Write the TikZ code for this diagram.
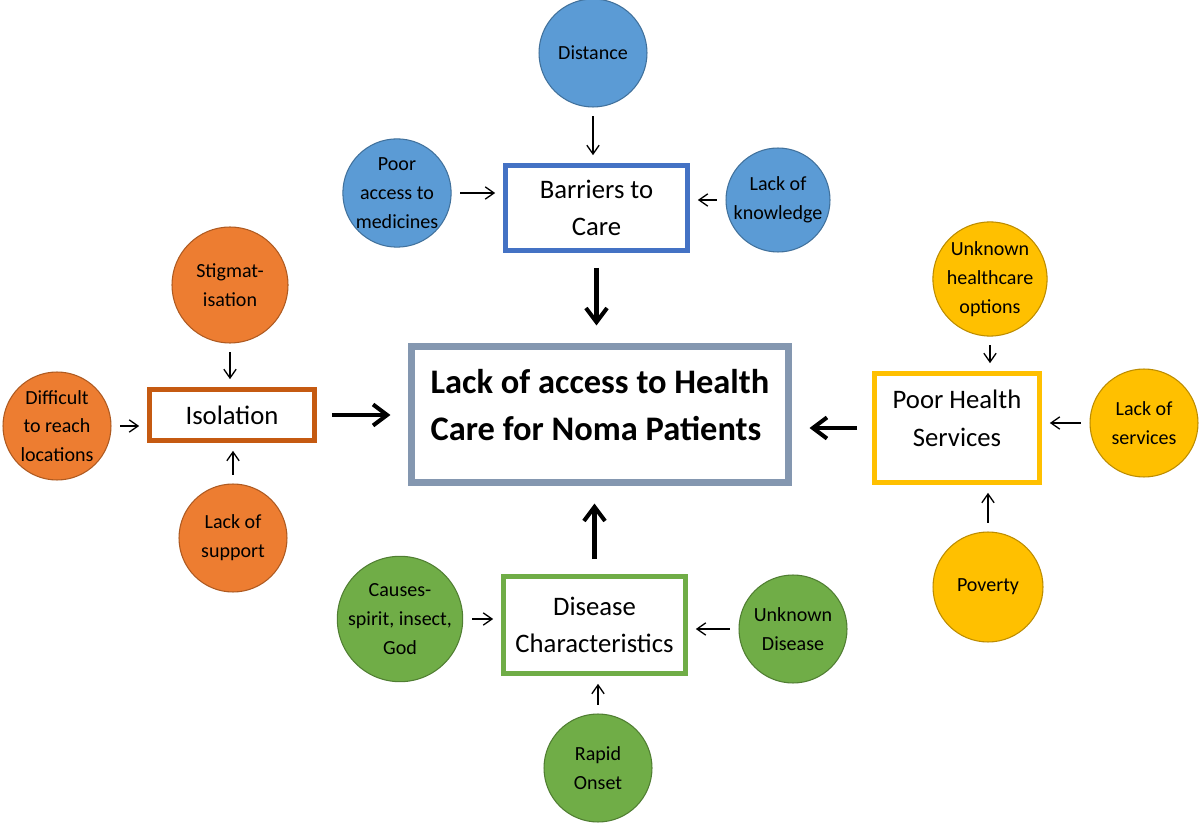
\documentclass[tikz,border=0pt]{standalone}
\usepackage{fontspec}
\setmainfont{Carlito}
\usetikzlibrary{arrows.meta, calc}
\definecolor{mainLine}{HTML}{8497B0}
\definecolor{barLine}{HTML}{4472C4}
\definecolor{barFill}{HTML}{5B9BD5}
\definecolor{barDot}{HTML}{41719C}
\definecolor{isoLine}{HTML}{C55A11}
\definecolor{isoFill}{HTML}{ED7D31}
\definecolor{isoDot}{HTML}{AE5A21}
\definecolor{phsLine}{HTML}{FFC000}
\definecolor{phsFill}{HTML}{FFC000}
\definecolor{phsDot}{HTML}{BC8C00}
\definecolor{disLine}{HTML}{70AD47}
\definecolor{disFill}{HTML}{70AD47}
\definecolor{disDot}{HTML}{507E32}

\begin{document}
\begin{tikzpicture}[
  x=0.02cm, y=-0.02cm,
  cause/.style  ={circle, draw, line width=0.6pt, inner sep=0pt, align=center,
                  minimum size=2.16cm, font=\fontsize{11.4}{16.4}\selectfont},
  barCause/.style={cause, fill=barFill, draw=barDot},
  isoCause/.style={cause, fill=isoFill, draw=isoDot},
  phsCause/.style={cause, fill=phsFill, draw=phsDot},
  disCause/.style={cause, fill=disFill, draw=disDot},
  factor/.style ={draw, fill=white, line width=2.8pt, inner sep=0pt, align=center,
                  font=\fontsize{15.2}{21.5}\selectfont},
  feed/.style   ={-{Straight Barb[length=5pt, width=7pt]}, line width=0.75pt,
                  shorten <=5pt, shorten >=4.5pt},
  lead/.style   ={-{Straight Barb[length=8pt, width=12pt]}, line width=2.3pt,
                  shorten <=8.5pt, shorten >=10pt},
]
\useasboundingbox (0,0) rectangle (1200,827);

% ----- Core problem -----
\node[draw=mainLine, fill=white, line width=4pt, inner sep=0pt, align=left,
      minimum width=7.54cm, minimum height=2.72cm, text depth=11pt,
      font=\fontsize{19.6}{26.6}\selectfont\bfseries] (MAIN) at (600,414.5)
  {Lack of access to Health\\Care for Noma Patients};

% ----- Barriers to Care -----
\node[factor, draw=barLine, minimum width=3.64cm, minimum height=1.7cm] (BAR) at (596.5,208)
  {Barriers to\\Care};
\node[barCause] (DIST) at (593,53)  {Distance};
\node[barCause] (POOR) at (397,193) {Poor\\access to\\medicines};
\node[barCause, minimum size=2.08cm] (KNOW) at (778,200) {Lack of\\knowledge};

% ----- Isolation -----
\node[factor, draw=isoLine, minimum width=3.3cm, minimum height=1.02cm] (ISO) at (232,415)
  {Isolation};
\node[isoCause, minimum size=2.32cm] (STIG) at (230,285) {Stigmat-\\isation};
\node[isoCause] (DIFF) at (57,426)  {Difficult\\to reach\\locations};
\node[isoCause] (SUPP) at (233,538) {Lack of\\support};

% ----- Poor Health Services -----
\node[factor, draw=phsLine, minimum width=3.3cm, minimum height=2.18cm, text depth=11pt] (PHS) at (957,428)
  {Poor Health\\Services};
\node[phsCause] (UHC)   at (990,279)  {Unknown\\healthcare\\options};
\node[phsCause] (LSERV) at (1144,423) {Lack of\\services};
\node[phsCause, minimum size=2.2cm] (POV) at (988,587) {Poverty};

% ----- Disease Characteristics -----
\node[factor, draw=disLine, minimum width=3.64cm, minimum height=1.94cm] (DIS) at (594.5,625)
  {Disease\\Characteristics};
\node[disCause, minimum size=2.3cm] (CAUS) at (400,619) {Causes-\\spirit, insect,\\God};
\node[disCause] (UDIS)  at (793,629) {Unknown\\Disease};
\node[disCause] (RAPID) at (598,768) {Rapid\\Onset};

% ----- Small arrows into each factor -----
\draw[feed] (DIST.south) -- (DIST.south |- BAR.north);
\draw[feed] (POOR.east)  -- (POOR.east -| BAR.west);
\draw[feed] (KNOW.west)  -- (KNOW.west -| BAR.east);

\draw[feed] (STIG.south) -- (STIG.south |- ISO.north);
\draw[feed] (DIFF.east)  -- (DIFF.east -| ISO.west);
\draw[feed] (SUPP.north) -- (SUPP.north |- ISO.south);

\draw[feed] (UHC.south)  -- (UHC.south |- PHS.north);
\draw[feed] (LSERV.west) -- (LSERV.west -| PHS.east);
\draw[feed] (POV.north)  -- (POV.north |- PHS.south);

\draw[feed] (CAUS.east)  -- (CAUS.east -| DIS.west);
\draw[feed] (UDIS.west)  -- (UDIS.west -| DIS.east);
\draw[feed] (RAPID.north) -- (RAPID.north |- DIS.south);

% ----- Bold arrows into the core problem -----
\draw[lead] (BAR.south) -- (BAR.south |- MAIN.north);
\draw[lead] (ISO.east)  -- (ISO.east -| MAIN.west);
\draw[lead] (PHS.west)  -- (PHS.west -| MAIN.east);
\draw[lead] (DIS.north) -- (DIS.north |- MAIN.south);

\end{tikzpicture}
\end{document}
